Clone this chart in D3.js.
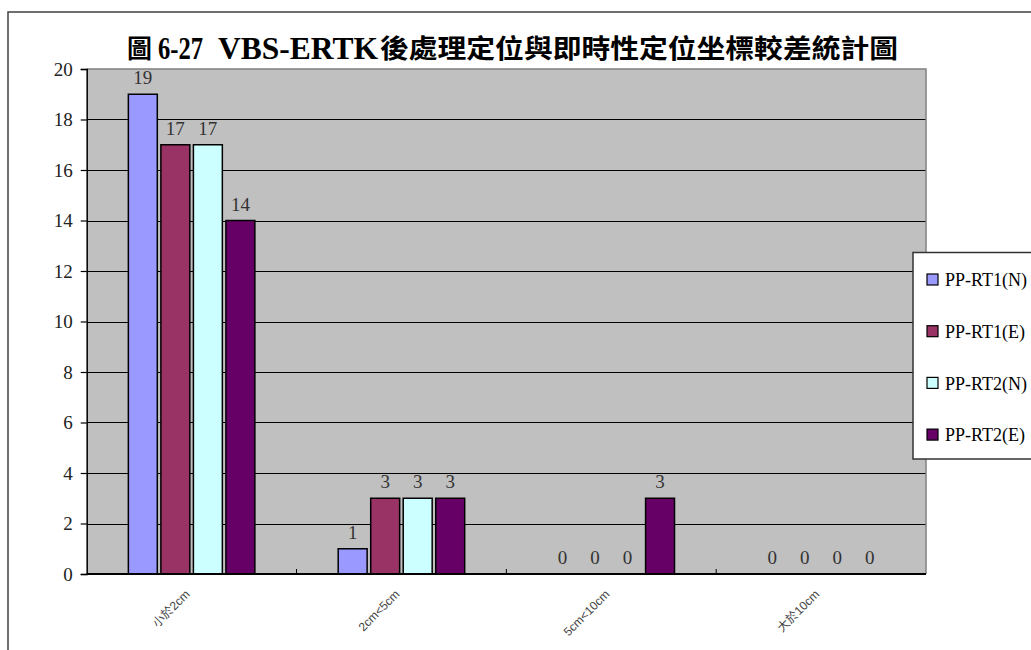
<!DOCTYPE html>
<html><head><meta charset="utf-8">
<script src="https://cdn.jsdelivr.net/npm/d3@7"></script>
<style>body{margin:0;background:#fff;}svg{display:block;}
.serif{font-family:"Liberation Serif","Noto Sans CJK TC",serif;}
</style>
</head><body>
<svg id="chart" width="1031" height="650"></svg>
<script>
const categories = ["小於2cm", "2cm<5cm", "5cm<10cm", "大於10cm"];
const seriesNames = ["PP-RT1(N)", "PP-RT1(E)", "PP-RT2(N)", "PP-RT2(E)"];
const rt1N = [19, 1, 0, 0];
const rt1E = [17, 3, 0, 0];
const rt2N = [17, 3, 0, 0];
const rt2E = [14, 3, 3, 0];
const seriesColors = ["#9999FF", "#993366", "#CCFFFF", "#660066"];
const yTicks = [0, 2, 4, 6, 8, 10, 12, 14, 16, 18, 20];
const titleParts = ["圖", "6-27", "VBS-ERTK", "後處理定位與即時性定位坐標較差統計圖"];

const seriesValues = [rt1N, rt1E, rt2N, rt2E];
const svg = d3.select("#chart");

// outer frame
svg.append("rect").attr("x", 8).attr("y", 12).attr("width", 1100).attr("height", 700)
  .attr("fill", "#fff").attr("stroke", "#404040").attr("stroke-width", 1.5);

const L = 86.7, R = 926, T = 69, B = 574;
const x = d3.scaleBand().domain(categories).range([L, R]).paddingInner(0).paddingOuter(0);
const groupW = 126.5;
const xs = d3.scaleBand().domain(seriesNames).range([-groupW / 2, groupW / 2]).paddingInner(0.11).paddingOuter(0);
const y = d3.scaleLinear().domain([0, 20]).range([B, T]);

svg.append("rect").attr("x", L).attr("y", T).attr("width", R - L).attr("height", B - T).attr("fill", "#C0C0C0");

svg.append("g").selectAll("line").data(yTicks.filter(d => d > 0 && d < 20)).join("line")
  .attr("x1", L).attr("x2", R).attr("y1", d => Math.round(y(d)) + 0.5).attr("y2", d => Math.round(y(d)) + 0.5)
  .attr("stroke", "#000").attr("stroke-width", 1);

svg.append("path").attr("d", `M${L},${T}H${R}V${B}`).attr("fill", "none").attr("stroke", "#808080").attr("stroke-width", 1.5);

const data = [];
categories.forEach((c, i) => seriesNames.forEach((s, j) => data.push({ c, s, j, v: seriesValues[j][i] })));
const bx = d => x(d.c) + x.bandwidth() / 2 + xs(d.s);
svg.append("g").selectAll("rect").data(data.filter(d => d.v > 0)).join("rect")
  .attr("x", bx).attr("y", d => y(d.v)).attr("width", xs.bandwidth()).attr("height", d => y(0) - y(d.v))
  .attr("fill", d => seriesColors[d.j]).attr("stroke", "#000").attr("stroke-width", 1.5);

svg.append("g").selectAll("text").data(data).join("text")
  .attr("class", "serif")
  .attr("x", d => bx(d) + xs.bandwidth() / 2).attr("y", d => y(d.v) - 10)
  .attr("text-anchor", "middle").style("font-size", "19px")
  .attr("fill", "#333").text(d => d.v);

const yAxis = svg.append("g").attr("transform", `translate(${L},0)`)
  .call(d3.axisLeft(y).tickValues(yTicks).tickSize(6).tickPadding(8).tickFormat(d3.format("d")));
yAxis.attr("font-family", null).attr("font-size", null);
yAxis.select(".domain").attr("stroke", "#000").attr("stroke-width", 1.5);
yAxis.selectAll(".tick line").attr("stroke", "#000").attr("stroke-width", 1.2);
yAxis.selectAll(".tick text").attr("class", "serif").style("font-size", "19px").attr("fill", "#222");

svg.append("line").attr("x1", L).attr("x2", R).attr("y1", B).attr("y2", B).attr("stroke", "#000").attr("stroke-width", 2);
svg.append("g").selectAll("line").data(categories.slice(1)).join("line")
  .attr("x1", d => x(d)).attr("x2", d => x(d)).attr("y1", B).attr("y2", B - 5)
  .attr("stroke", "#000").attr("stroke-width", 1);

svg.append("g").selectAll("text").data(categories).join("text")
  .attr("transform", d => `translate(${x(d) + x.bandwidth() / 2 - 4},${B + 18}) rotate(-45)`)
  .attr("text-anchor", "end").attr("dy", "0.35em")
  .style("font-family", "'Liberation Sans','Noto Sans CJK TC',sans-serif").style("font-size", "12px")
  .attr("fill", "#444").text(d => d);

// title pieces
const tp = [
  { t: titleParts[0], x: 127, size: 26, len: 25, base: 58 },
  { t: titleParts[1], x: 158, size: 32, len: 45, base: 59 },
  { t: titleParts[2], x: 218, size: 32, len: 160, base: 59 },
  { t: titleParts[3], x: 380, size: 26, len: 518, base: 58 }
];
svg.append("g").selectAll("text").data(tp).join("text")
  .attr("class", "serif").attr("x", d => d.x).attr("y", d => d.base)
  .style("font-weight", "bold").style("font-size", d => d.size + "px")
  .attr("textLength", d => d.len).attr("lengthAdjust", "spacingAndGlyphs")
  .attr("fill", "#000").text(d => d.t);

// legend
svg.append("rect").attr("x", 913).attr("y", 252.5).attr("width", 200).attr("height", 206.5)
  .attr("fill", "#fff").attr("stroke", "#333").attr("stroke-width", 1.5);
const lg = svg.append("g").selectAll("g").data(seriesNames).join("g")
  .attr("transform", (d, i) => `translate(927,${280 + i * 51.7})`);
lg.append("rect").attr("x", 0).attr("y", -6).attr("width", 11).attr("height", 11)
  .attr("fill", (d, i) => seriesColors[i]).attr("stroke", "#000").attr("stroke-width", 1.2);
lg.append("text").attr("class", "serif").attr("x", 18).attr("y", 0).attr("dy", "0.35em")
  .style("font-size", "18px").attr("fill", "#000").text(d => d);
</script>
</body></html>
